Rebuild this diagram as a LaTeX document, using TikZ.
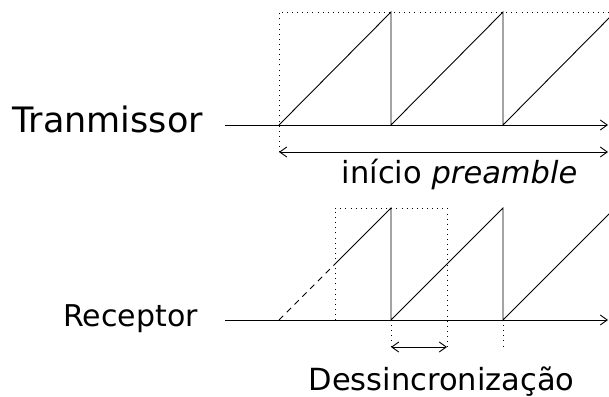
\documentclass[tikz,border=0pt]{standalone}
\usepackage{fontspec}
\setmainfont{DejaVu Sans}
\usetikzlibrary{arrows.meta}
\begin{document}
\begin{tikzpicture}[x=1pt,y=-1pt,
  signal/.style={line width=0.9pt},
  guide/.style={line width=0.9pt,dash pattern=on 0.9pt off 4.2pt},
  axisarrow/.style={line width=0.9pt,-{Straight Barb[length=7pt,width=10pt]}},
  span/.style={line width=0.9pt,{Straight Barb[length=7pt,width=10pt]}-{Straight Barb[length=7pt,width=10pt]}},
  lbl/.style={inner sep=0pt,anchor=base}]
\useasboundingbox (0,0) rectangle (609,396);
\clip (0,0) rectangle (609,396);

% ---- transmitter ----
\coordinate (ta0) at (225,125);
\coordinate (taE) at (608,125);
\coordinate (t0) at (279,125);
\coordinate (t1) at (391,125);
\coordinate (t1p) at (391,12);
\coordinate (t2) at (503,125);
\coordinate (t2p) at (503,12);
\coordinate (t3p) at (615,12);
\coordinate (tTopR) at (615,12);
\coordinate (tTopL) at (279,12);
\coordinate (tArL) at (279,152);
\coordinate (tArR) at (608,152);

\node[lbl,font=\fontsize{35}{35}\selectfont,anchor=base east] (tx) at (203,132) {Tranmissor};
\draw[axisarrow] (ta0) -- (taE);
\draw[signal] (t0) -- (t1p) -- (t1) -- (t2p) -- (t2) -- (t3p);
\draw[guide] (tArL) -- (tTopL) -- (tTopR);
\draw[guide] (t0) -- (taE);
\draw[span] (tArL) -- (tArR);
\node[lbl,font=\fontsize{30.5}{30.5}\selectfont] (pre) at (459.5,183) {início \textit{preamble}};

% ---- receiver ----
\coordinate (ra0) at (225,320);
\coordinate (raE) at (608,320);
\coordinate (r0) at (279,320);
\coordinate (rm) at (335,264);
\coordinate (r1) at (391,320);
\coordinate (r1p) at (391,208);
\coordinate (r2) at (503,320);
\coordinate (r2p) at (503,208);
\coordinate (r3p) at (615,208);
\coordinate (bxL) at (335,320);
\coordinate (bxTL) at (335,208);
\coordinate (bxTR) at (447,208);
\coordinate (bxR) at (447,347);
\coordinate (dL) at (391,347);
\coordinate (d2) at (503,347);

\node[lbl,font=\fontsize{30}{30}\selectfont,anchor=base east] (rx) at (198,326) {Receptor};
\draw[axisarrow] (ra0) -- (raE);
\draw[signal,dash pattern=on 6pt off 5pt] (r0) -- (rm);
\draw[signal] (rm) -- (r1p) -- (r1) -- (r2p) -- (r2) -- (r3p);
\draw[guide] (bxL) -- (bxTL) -- (bxTR) -- (bxR);
\draw[guide] (bxL) -- (r1);
\draw[guide] (r1) -- (dL);
\draw[guide] (r2) -- (d2);
\draw[span] (dL) -- (bxR);
\node[lbl,font=\fontsize{30.5}{30.5}\selectfont] (des) at (441.5,390) {Dessincronização};
\end{tikzpicture}
\end{document}
